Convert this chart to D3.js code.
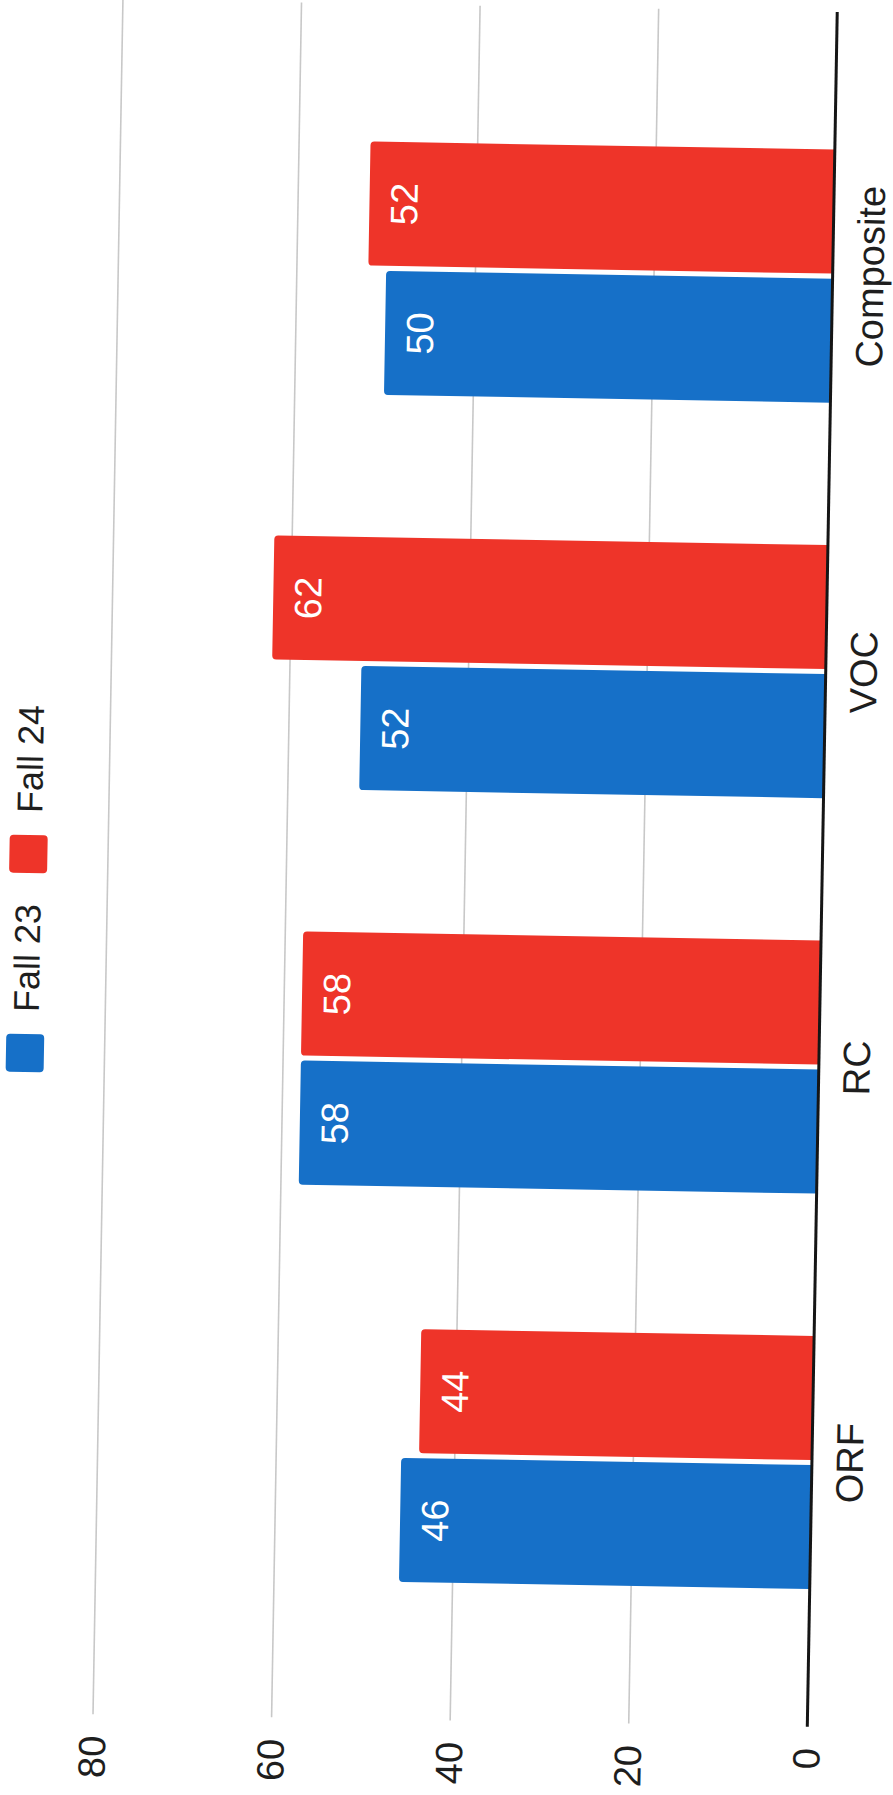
<!DOCTYPE html>
<html>
<head>
<meta charset="utf-8">
<script src="https://cdn.jsdelivr.net/npm/d3@7"></script>
<style>
  html, body { margin: 0; padding: 0; background: #ffffff; }
  svg { display: block; }
  text { font-family: "Liberation Sans", Arial, sans-serif; }
</style>
</head>
<body>
<svg id="chart" width="893" height="1795"></svg>
<script>
// Scores by subtest, two fall testing windows
const categories = ["ORF", "RC", "VOC", "Composite"];
const seriesNames = ["Fall 23", "Fall 24"];
const fall23 = [46, 58, 52, 50];
const fall24 = [44, 58, 62, 52];
const tickValues = [0, 20, 40, 60, 80];
const seriesColors = ["#1670c8", "#ee3429"];

const seriesValues = [fall23, fall24];
const rows = categories.map((c, i) => ({
  category: c,
  values: seriesNames.map((s, j) => ({ series: s, value: seriesValues[j][i], color: seriesColors[j] }))
}));

const svg = d3.select("#chart");

// Column chart laid out in its own frame, then turned onto the page
const plotLen = 1715;      // length of the category axis
const valueLen = 714.4;    // pixel length of 0..80
const g = svg.append("g")
  .attr("transform", "translate(807.3,1726.7) rotate(-89)");

const x0 = d3.scaleBand()
  .domain(categories)
  .range([0, plotLen])
  .paddingInner(0.36)
  .paddingOuter(0.348);

const x1 = d3.scaleBand()
  .domain(seriesNames)
  .range([0, x0.bandwidth()])
  .paddingInner(0.039);

const y = d3.scaleLinear()
  .domain([0, 80])
  .range([0, -valueLen]);

// Gridlines
g.append("g")
  .selectAll("line")
  .data(tickValues.filter(t => t > 0))
  .join("line")
  .attr("x1", 0)
  .attr("x2", plotLen)
  .attr("y1", d => y(d))
  .attr("y2", d => y(d))
  .attr("stroke", "#c8c8c8")
  .attr("stroke-width", 1.6);

// Value axis labels
const yAxis = d3.axisLeft(y).tickValues(tickValues).tickSize(0).tickPadding(21.5);
const yAxisG = g.append("g").call(yAxis);
yAxisG.select(".domain").remove();
yAxisG.selectAll("text")
  .attr("font-size", 38)
  .attr("font-family", "'Liberation Sans', Arial, sans-serif")
  .attr("fill", "#1e1e1e");

// Bars with rounded outer corners
function barPath(x, w, v) {
  const top = y(v);
  const r = Math.min(4, Math.abs(top));
  return `M${x},0 V${top + r} Q${x},${top} ${x + r},${top} H${x + w - r} Q${x + w},${top} ${x + w},${top + r} V0 Z`;
}

const groups = g.append("g")
  .selectAll("g")
  .data(rows)
  .join("g")
  .attr("transform", d => `translate(${x0(d.category)},0)`);

groups.selectAll("path")
  .data(d => d.values)
  .join("path")
  .attr("d", d => barPath(x1(d.series), x1.bandwidth(), d.value))
  .attr("fill", d => d.color);

// Value labels inside the bar ends
groups.selectAll("text.val")
  .data(d => d.values)
  .join("text")
  .attr("class", "val")
  .attr("x", d => x1(d.series) + x1.bandwidth() / 2)
  .attr("y", d => y(d.value) + 48)
  .attr("text-anchor", "middle")
  .attr("font-size", 38)
  .attr("fill", "#ffffff")
  .text(d => d.value);

// Category axis
const xAxis = d3.axisBottom(x0).tickSize(0).tickPadding(0);
const xAxisG = g.append("g").call(xAxis);
xAxisG.select(".domain").remove();
xAxisG.selectAll("text")
  .attr("font-size", 38)
  .attr("font-family", "'Liberation Sans', Arial, sans-serif")
  .attr("fill", "#1e1e1e")
  .attr("dy", null)
  .attr("y", 51);

// Baseline
g.append("line")
  .attr("x1", 0)
  .attr("x2", plotLen)
  .attr("y1", y(0))
  .attr("y2", y(0))
  .attr("stroke", "#151515")
  .attr("stroke-width", 3);

// Legend
const legend = g.append("g").attr("transform", "translate(641,-813)");
const sq = 38, gapText = 22, gapItem = 31;
let cursor = 0;
seriesNames.forEach((s, i) => {
  legend.append("rect")
    .attr("x", cursor)
    .attr("y", 0)
    .attr("width", sq)
    .attr("height", sq)
    .attr("rx", 4)
    .attr("fill", seriesColors[i]);
  cursor += sq + gapText;
  const t = legend.append("text")
    .attr("x", cursor)
    .attr("y", 32)
    .attr("font-size", 36)
    .attr("fill", "#1e1e1e")
    .text(s);
  cursor += t.node().getComputedTextLength() + gapItem;
});
</script>
</body>
</html>
